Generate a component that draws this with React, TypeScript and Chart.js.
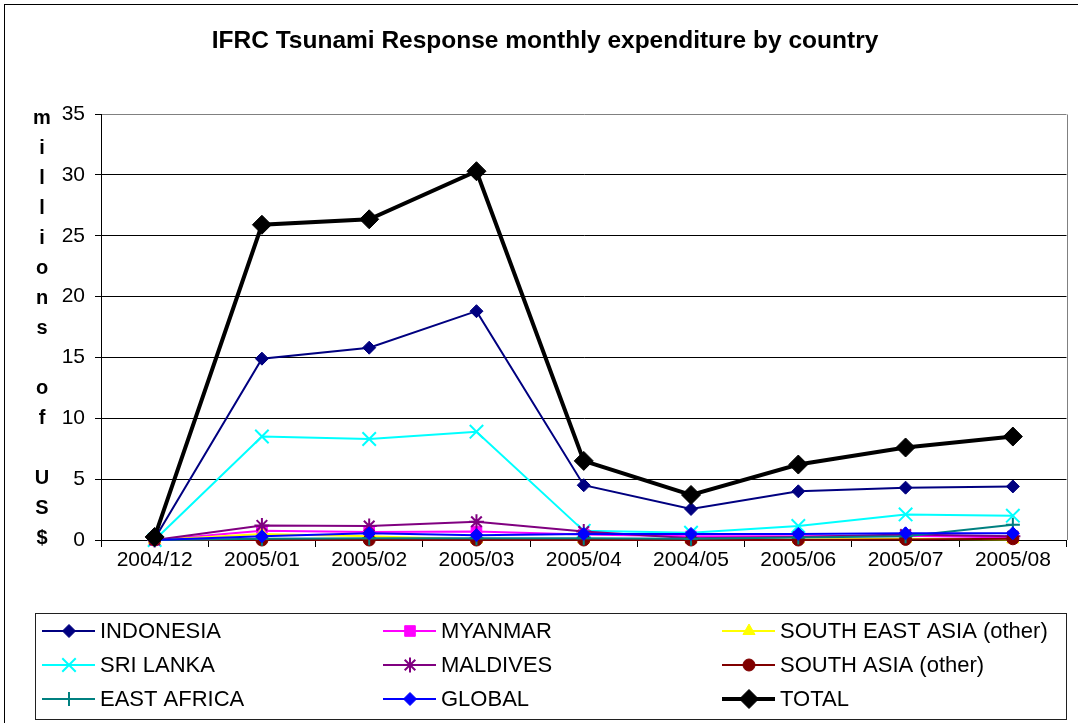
import React, { useEffect, useRef } from "react";
import { Chart, registerables } from "chart.js";
import { drawPoint } from "chart.js/helpers";

Chart.register(...registerables);

const categories = ["2004/12", "2005/01", "2005/02", "2005/03", "2005/04", "2004/05", "2005/06", "2005/07", "2005/08"];

const indonesia = [0.1, 14.9, 15.8, 18.8, 4.5, 2.55, 4.0, 4.3, 4.4];
const myanmar = [0, 0.75, 0.65, 0.7, 0.45, 0.3, 0.3, 0.35, 0.2];
const southEastAsia = [0, 0.5, 0.3, 0.05, 0.05, 0.05, 0.05, 0.1, 0.05];
const sriLanka = [0, 8.5, 8.3, 8.9, 0.75, 0.6, 1.15, 2.1, 2.0];
const maldives = [0, 1.2, 1.15, 1.5, 0.7, 0.15, 0.25, 0.45, 0.3];
const southAsia = [0, 0, 0, 0, 0, 0, 0, 0.05, 0.1];
const eastAfrica = [0, 0.1, 0.15, 0.15, 0.15, 0.1, 0.2, 0.3, 1.25];
const global = [0, 0.3, 0.55, 0.4, 0.5, 0.5, 0.5, 0.55, 0.55];
const total = [0.25, 25.9, 26.35, 30.3, 6.5, 3.7, 6.2, 7.6, 8.5];

const yMin = 0;
const yMax = 35;
const yStep = 5;

const titleText = "IFRC Tsunami Response monthly expenditure by country";
const yTitleLines = ["m", "i", "l", "l", "i", "o", "n", "s", "", "o", "f", "", "U", "S", "$"];

const FONT = "'Liberation Sans', Arial, sans-serif";

type SeriesStyle = {
  label: string;
  data: number[];
  color: string;
  pointStyle: string;
  radius: number;
  lineWidth: number;
  pointBorderWidth: number;
};

const series: SeriesStyle[] = [
  { label: "INDONESIA", data: indonesia, color: "#000080", pointStyle: "rectRot", radius: 6.5, lineWidth: 2, pointBorderWidth: 1 },
  { label: "MYANMAR", data: myanmar, color: "#FF00FF", pointStyle: "rect", radius: 7.5, lineWidth: 2, pointBorderWidth: 1 },
  { label: "SOUTH EAST ASIA (other)", data: southEastAsia, color: "#FFFF00", pointStyle: "triangle", radius: 7, lineWidth: 2, pointBorderWidth: 1 },
  { label: "SRI LANKA", data: sriLanka, color: "#00FFFF", pointStyle: "crossRot", radius: 9.5, lineWidth: 2, pointBorderWidth: 2 },
  { label: "MALDIVES", data: maldives, color: "#800080", pointStyle: "star", radius: 7.5, lineWidth: 2, pointBorderWidth: 2 },
  { label: "SOUTH ASIA (other)", data: southAsia, color: "#800000", pointStyle: "circle", radius: 6, lineWidth: 2, pointBorderWidth: 1 },
  { label: "EAST AFRICA", data: eastAfrica, color: "#008080", pointStyle: "cross", radius: 7, lineWidth: 2, pointBorderWidth: 2 },
  { label: "GLOBAL", data: global, color: "#0000FF", pointStyle: "rectRot", radius: 6.5, lineWidth: 2, pointBorderWidth: 1 },
  { label: "TOTAL", data: total, color: "#000000", pointStyle: "rectRot", radius: 9.5, lineWidth: 4, pointBorderWidth: 1 },
];

const decorPlugin = {
  id: "decor",
  beforeDraw(chart: any) {
    const ctx = chart.ctx;
    ctx.save();
    ctx.fillStyle = "#FFFFFF";
    ctx.fillRect(0, 0, chart.width, chart.height);
    ctx.restore();
  },
  beforeDatasetsDraw(chart: any) {
    const { ctx, chartArea } = chart;
    ctx.save();
    ctx.strokeStyle = "#808080";
    ctx.lineWidth = 1;
    ctx.beginPath();
    const rx = Math.round(chartArea.right) + 0.5;
    ctx.moveTo(rx, Math.round(chartArea.top) + 0.5);
    ctx.lineTo(rx, Math.round(chartArea.bottom));
    ctx.stroke();
    ctx.restore();
  },
  afterDraw(chart: any) {
    const ctx = chart.ctx;
    ctx.save();
    // outer frame
    ctx.strokeStyle = "#000000";
    ctx.lineWidth = 1;
    ctx.strokeRect(4.5, 4.5, chart.width + 20, chart.height + 20);

    // title
    ctx.fillStyle = "#000000";
    ctx.font = `bold 24.5px ${FONT}`;
    ctx.textAlign = "center";
    ctx.textBaseline = "middle";
    ctx.fillText(titleText, 545, 41);

    // vertical y title
    ctx.font = `bold 20px ${FONT}`;
    const step = 30.07;
    yTitleLines.forEach((ch, i) => {
      if (ch) ctx.fillText(ch, 42, 118 + i * step);
    });

    // legend box
    ctx.strokeStyle = "#202020";
    ctx.lineWidth = 1;
    ctx.strokeRect(35.5, 613.5, 1031, 106);

    const colX = [42, 383, 722];
    const rowY = [631, 665, 699];
    ctx.textAlign = "left";
    ctx.font = `22px ${FONT}`;
    series.forEach((s, i) => {
      const x0 = colX[i % 3];
      const y0 = rowY[Math.floor(i / 3)];
      ctx.strokeStyle = s.color;
      ctx.lineWidth = s.lineWidth;
      ctx.beginPath();
      ctx.moveTo(x0, y0);
      ctx.lineTo(x0 + 53, y0);
      ctx.stroke();
      ctx.fillStyle = s.color;
      ctx.lineWidth = s.pointBorderWidth;
      drawPoint(ctx, { pointStyle: s.pointStyle, radius: s.radius, rotation: 0, borderWidth: s.pointBorderWidth } as any, x0 + 27, y0);
      ctx.fillStyle = "#000000";
      ctx.fillText(s.label, x0 + 58, y0 + 1);
    });
    ctx.restore();
  },
};

export default function App() {
  const canvasRef = useRef<HTMLCanvasElement | null>(null);

  useEffect(() => {
    const canvas = canvasRef.current;
    if (!canvas) return;
    Chart.defaults.font.family = FONT;
    Chart.defaults.color = "#000000";

    const chart = new Chart(canvas, {
      type: "line",
      data: {
        labels: categories,
        datasets: series.map((s, i) => ({
          label: s.label,
          data: s.data,
          borderColor: s.color,
          backgroundColor: s.color,
          borderWidth: s.lineWidth,
          pointStyle: s.pointStyle as any,
          pointRadius: s.radius,
          pointHoverRadius: s.radius,
          pointBackgroundColor: s.color,
          pointBorderColor: s.color,
          pointBorderWidth: s.pointBorderWidth,
          tension: 0,
          fill: false,
          clip: false as any,
          order: series.length - 1 - i,
        })),
      },
      options: {
        responsive: false,
        animation: false,
        devicePixelRatio: 1,
        layout: { padding: { left: 0, top: 114, right: 11, bottom: 143 } },
        plugins: {
          legend: { display: false },
          title: { display: false },
          tooltip: { enabled: false },
        },
        scales: {
          x: {
            type: "category",
            offset: true,
            grid: {
              display: true,
              drawOnChartArea: false,
              drawTicks: true,
              tickLength: 7,
              tickColor: "#000000",
              offset: true,
            },
            border: { display: true, color: "#000000", width: 1 },
            ticks: {
              font: { size: 21, family: FONT },
              color: "#000000",
              padding: 1,
              maxRotation: 0,
              autoSkip: false,
            },
            afterFit: (s: any) => {
              s.height = 40;
            },
          },
          y: {
            min: yMin,
            max: yMax,
            grid: {
              color: (c: any) => (c.tick && c.tick.value === yMax ? "#808080" : "#000000"),
              lineWidth: 1,
              drawTicks: true,
              tickLength: 6,
              tickColor: "#000000",
            },
            border: { display: true, color: "#000000", width: 1 },
            ticks: {
              stepSize: yStep,
              font: { size: 21, family: FONT },
              color: "#000000",
              padding: 10,
            },
            afterFit: (s: any) => {
              s.width = 101;
            },
          },
        },
      },
      plugins: [decorPlugin],
    } as any);

    return () => {
      chart.destroy();
    };
  }, []);

  return (
    <div style={{ position: "absolute", left: 0, top: 0, width: 1078, height: 723, background: "#fff" }}>
      <canvas ref={canvasRef} width={1078} height={723} style={{ display: "block" }} />
    </div>
  );
}
